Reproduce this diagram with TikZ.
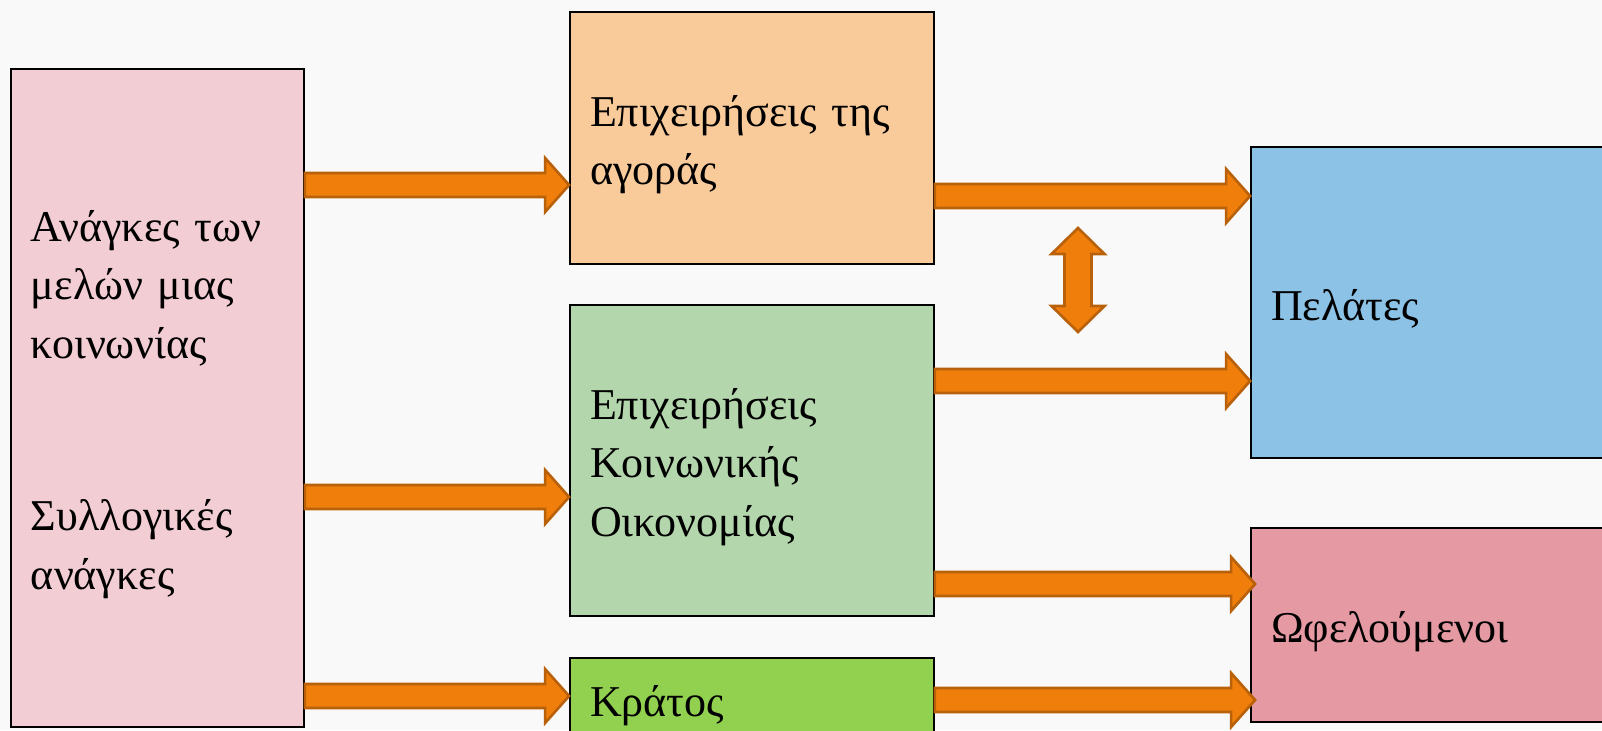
\documentclass[tikz,border=0pt]{standalone}
\usepackage{fontspec}
\setmainfont{Liberation Serif}
\usetikzlibrary{calc}
\definecolor{bgcol}{HTML}{F9F9F9}
\definecolor{pinkbox}{HTML}{F2CDD3}
\definecolor{orangebox}{HTML}{FACB9A}
\definecolor{greenbox}{HTML}{B3D6AC}
\definecolor{limebox}{HTML}{92D050}
\definecolor{bluebox}{HTML}{8CC2E5}
\definecolor{rosebox}{HTML}{E499A3}
\definecolor{arrowfill}{HTML}{EF7F0A}
\definecolor{arrowline}{HTML}{B8600A}
\tikzset{
  box/.style={draw=black, line width=0.9pt, rectangle, inner xsep=10pt, inner ysep=0pt,
    align=left, font=\fontsize{22pt}{29.25pt}\selectfont, anchor=center,
    execute at begin node={\rule{0pt}{22pt}}},
  blockarrow/.style={fill=arrowfill, draw=arrowline, line width=1.3pt, line join=miter,
    to path={let \p1=(\tikztostart), \p2=(\tikztotarget) in
      (\x1,\y1+6pt) -- (\x2-12pt,\y1+6pt) -- (\x2-12pt,\y1+13.5pt) -- (\x2,\y1)
      -- (\x2-12pt,\y1-13.5pt) -- (\x2-12pt,\y1-6pt) -- (\x1,\y1-6pt) -- cycle}},
  dblarrow/.style={fill=arrowfill, draw=arrowline, line width=1.3pt, line join=miter,
    to path={let \p1=(\tikztostart), \p2=(\tikztotarget) in
      (\x1,\y1) -- (\x1+13.25pt,\y1-13pt) -- (\x1+6.75pt,\y1-13pt) -- (\x1+6.75pt,\y2+13pt)
      -- (\x1+13.25pt,\y2+13pt) -- (\x1,\y2) -- (\x1-13.25pt,\y2+13pt) -- (\x1-6.75pt,\y2+13pt)
      -- (\x1-6.75pt,\y1-13pt) -- (\x1-13.25pt,\y1-13pt) -- cycle}}
}
\begin{document}
\begin{tikzpicture}[x=0.5pt,y=-0.5pt]
\useasboundingbox (0,0) rectangle (1602,730);
\fill[bgcol] (0,0) rectangle (1602,730);

\node[box, fill=pinkbox, minimum width=146.5pt, text width=126.5pt, minimum height=329pt] (needs) at (157.5,398)
  {Ανάγκες των\\μελών μιας\\κοινωνίας\\[57pt]Συλλογικές\\ανάγκες};
\node[box, fill=orangebox, minimum width=182pt, text width=162pt, minimum height=126pt] (market) at (752,138)
  {Επιχειρήσεις της\\αγοράς};
\node[box, fill=greenbox, minimum width=182pt, text width=162pt, minimum height=155.5pt] (social) at (752,460.5)
  {Επιχειρήσεις\\Κοινωνικής\\Οικονομίας};
\node[box, fill=limebox, minimum width=182pt, text width=162pt, minimum height=41pt] (state) at (752,699)
  {Κράτος};
\node[box, fill=bluebox, minimum width=184.5pt, text width=164.5pt, minimum height=155.5pt] (clients) at (1435.5,302.5)
  {Πελάτες};
\node[box, fill=rosebox, minimum width=184.5pt, text width=164.5pt, minimum height=97pt] (benef) at (1435.5,625)
  {Ωφελούμενοι};

\path[blockarrow] (needs.east |- 0,185) to (market.west |- 0,185);
\path[blockarrow] (needs.east |- 0,497) to (social.west |- 0,497);
\path[blockarrow] (needs.east |- 0,696) to (state.west |- 0,696);
\path[blockarrow] (market.east |- 0,196) to (clients.west |- 0,196);
\path[blockarrow] (social.east |- 0,381) to (clients.west |- 0,381);
\path[blockarrow] (social.east |- 0,584) to ($(benef.west |- 0,584)+(5,0)$);
\path[blockarrow] (state.east |- 0,700) to ($(benef.west |- 0,700)+(5,0)$);

\coordinate (dtop) at (1078,228);
\coordinate (dbot) at (1078,332);
\path[dblarrow] (dtop) to (dbot);
\end{tikzpicture}
\end{document}
